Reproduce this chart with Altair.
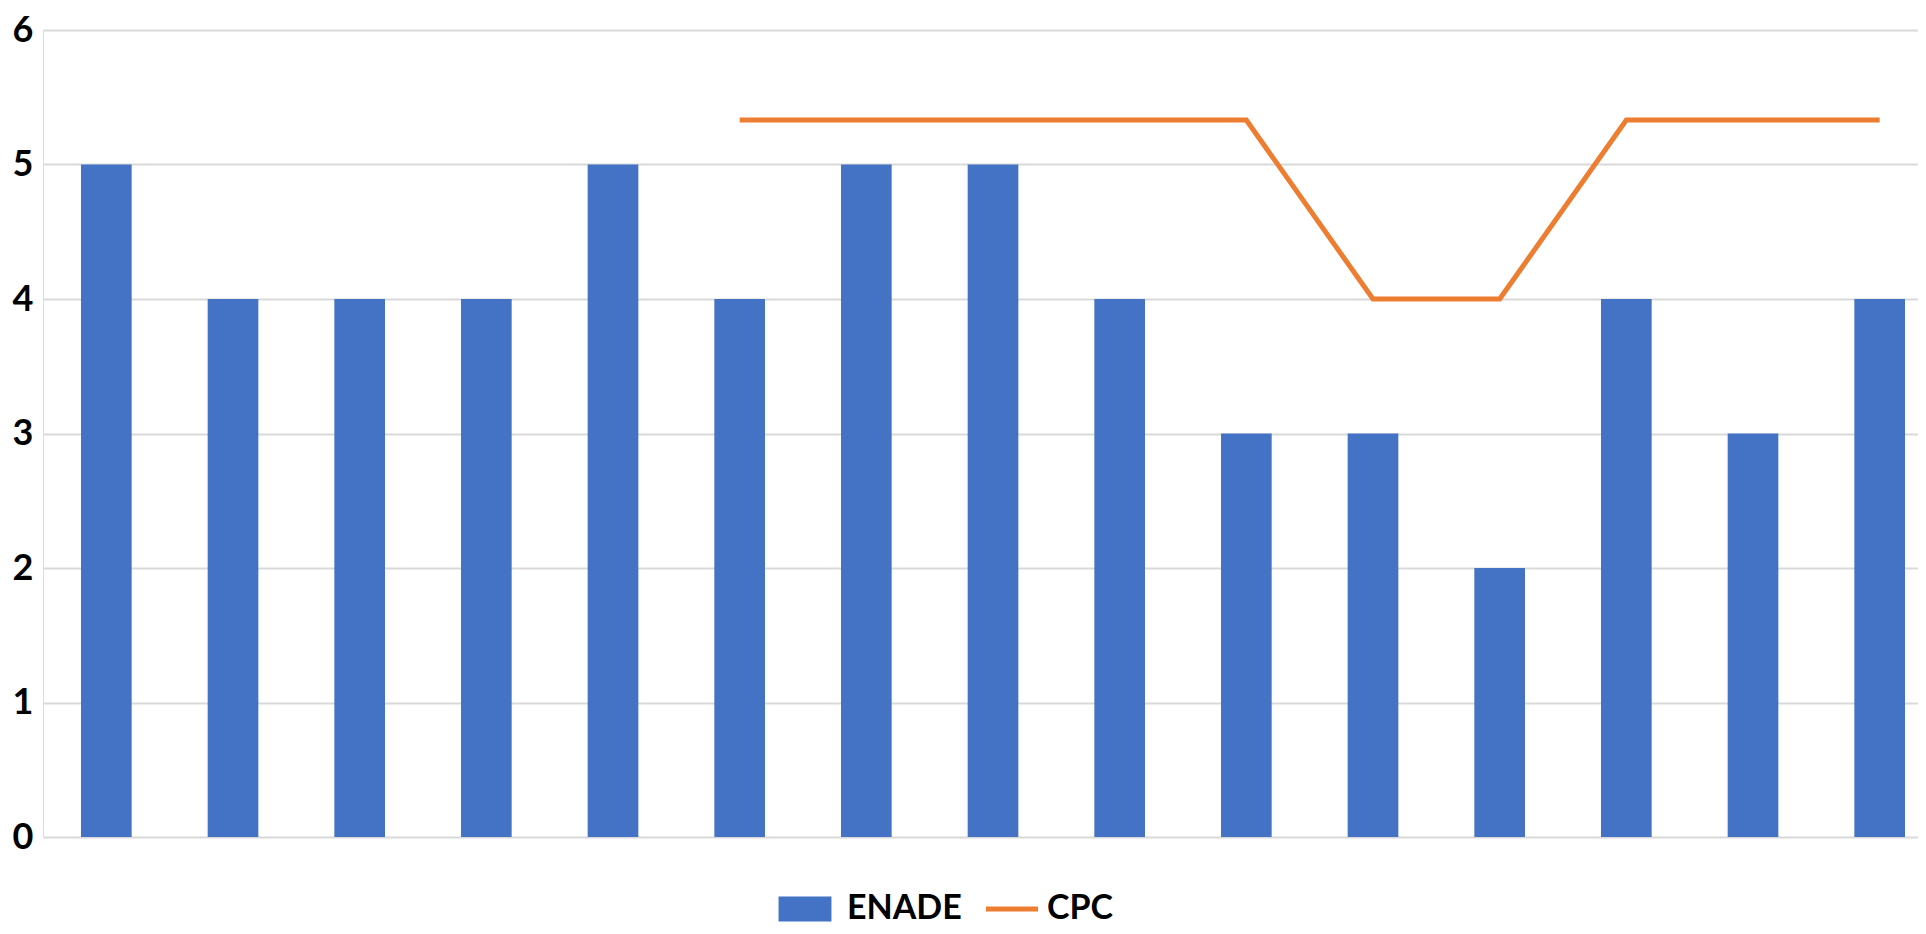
import altair as alt
import pandas as pd

categories = [f"C{i}" for i in range(1, 16)]
enade = [5, 4, 4, 4, 5, 4, 5, 5, 4, 3, 3, 2, 4, 3, 4]
cpc = [None, None, None, None, None, 5.33, 5.33, 5.33, 5.33, 5.33, 4, 4, 5.33, 5.33, 5.33]
y_ticks = [0, 1, 2, 3, 4, 5, 6]

df = pd.DataFrame({"cat": categories, "ENADE": enade, "CPC": cpc})
df["s1"] = "ENADE"
df["s2"] = "CPC"

FONT = "Lato, sans-serif"

xenc = alt.X(
    "cat:N",
    sort=categories,
    axis=None,
    scale=alt.Scale(range=[0, 1900], paddingInner=0.6, paddingOuter=0.3),
)

bars = alt.Chart(df).mark_bar(color="#4472C4").encode(
    x=xenc,
    y=alt.Y(
        "ENADE:Q",
        scale=alt.Scale(domain=[0, 6], nice=False),
        axis=alt.Axis(
            values=y_ticks,
            format="d",
            title=None,
            domain=False,
            ticks=False,
            labelFont=FONT,
            labelFontSize=36,
            labelFontWeight="bold",
            labelColor="black",
            labelPadding=10,
            gridColor="#d9d9d9",
            gridWidth=2,
        ),
    ),
    fill=alt.Fill(
        "s1:N",
        scale=alt.Scale(domain=["ENADE"], range=["#4472C4"]),
        legend=alt.Legend(
            orient="none",
            legendX=745,
            legendY=862,
            title=None,
            padding=0,
            symbolType="M-1.96,-0.93H1.96V0.93H-1.96Z",
            symbolSize=729,
            symbolStrokeWidth=0,
            symbolOpacity=1,
            labelFont=FONT,
            labelFontSize=34,
            labelFontWeight="bold",
            labelColor="black",
            labelOffset=25,
        ),
    ),
)

line = alt.Chart(df).transform_filter("datum.CPC != null").mark_line(
    color="#ED7D31", strokeWidth=5
).encode(
    x=xenc,
    y=alt.Y("CPC:Q"),
    stroke=alt.Stroke(
        "s2:N",
        scale=alt.Scale(domain=["CPC"], range=["#ED7D31"]),
        legend=alt.Legend(
            orient="none",
            legendX=952,
            legendY=862,
            title=None,
            padding=0,
            symbolType="M-1.93,0H1.93",
            symbolSize=729,
            symbolStrokeWidth=5,
            labelFont=FONT,
            labelFontSize=34,
            labelFontWeight="bold",
            labelColor="black",
            labelOffset=18,
        ),
    ),
)

chart = (
    alt.layer(bars, line)
    .properties(
        width=1875,
        height=807,
        autosize=alt.AutoSizeParams(type="none"),
        padding={"left": 35, "top": 22, "right": 0, "bottom": 89},
    )
    .configure_view(stroke=None)
    .configure(background="white")
)

chart.save("out.html", embed_options={"renderer": "svg", "actions": False})
